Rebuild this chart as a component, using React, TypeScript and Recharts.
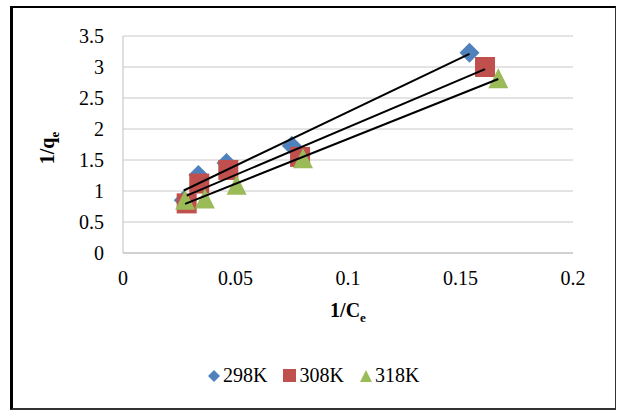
import React from 'react';
import { ScatterChart, Scatter, XAxis, YAxis, CartesianGrid } from 'recharts';

// 1/Ce and 1/qe readings per temperature
const x298 = [0.027, 0.0335, 0.046, 0.075, 0.154];
const y298 = [0.85, 1.26, 1.45, 1.73, 3.23];
const x308 = [0.0283, 0.0339, 0.0468, 0.0787, 0.1609];
const y308 = [0.8, 1.12, 1.34, 1.55, 3.0];
const x318 = [0.0276, 0.0364, 0.0505, 0.08, 0.1668];
const y318 = [0.86, 0.88, 1.1, 1.53, 2.82];

const xTicks = [0, 0.05, 0.1, 0.15, 0.2];
const yTicks = [0, 0.5, 1, 1.5, 2, 2.5, 3, 3.5];
const seriesNames = ['298K', '308K', '318K'];

const BLUE = '#4F81BD';
const RED = '#C0504D';
const GREEN = '#9BBB59';
const FONT = 'Liberation Serif';

const toPoints = (xs: number[], ys: number[]) => xs.map((x, i) => ({ x, y: ys[i] }));

// least squares trend line, drawn from min x to max x like Excel does
const trend = (xs: number[], ys: number[]) => {
  const n = xs.length;
  const mx = xs.reduce((a, b) => a + b, 0) / n;
  const my = ys.reduce((a, b) => a + b, 0) / n;
  let sxy = 0;
  let sxx = 0;
  xs.forEach((x, i) => {
    sxy += (x - mx) * (ys[i] - my);
    sxx += (x - mx) * (x - mx);
  });
  const slope = sxy / sxx;
  const lo = Math.min(...xs);
  const hi = Math.max(...xs);
  return [
    { x: lo, y: my + slope * (lo - mx) },
    { x: hi, y: my + slope * (hi - mx) },
  ];
};

const Diamond = ({ cx, cy }: any) => (
  <polygon points={`${cx},${cy - 10} ${cx + 10},${cy} ${cx},${cy + 10} ${cx - 10},${cy}`} fill={BLUE} />
);
const Square = ({ cx, cy }: any) => <rect x={cx - 10} y={cy - 10} width={20} height={20} fill={RED} />;
const Triangle = ({ cx, cy }: any) => (
  <polygon points={`${cx},${cy - 10} ${cx + 10},${cy + 10} ${cx - 10},${cy + 10}`} fill={GREEN} />
);
const NoDot = () => <g />;

const XTitle = () => (
  <text x={348} y={317} textAnchor="middle" fontFamily={FONT} fontSize={20} fontWeight="bold" fill="#000">
    1/C
    <tspan fontSize={13} dy={5}>e</tspan>
  </text>
);

const YTitle = () => (
  <text
    x={54}
    y={148}
    transform="rotate(-90 54 148)"
    textAnchor="middle"
    fontFamily={FONT}
    fontSize={20}
    fontWeight="bold"
    fill="#000"
  >
    1/q
    <tspan fontSize={13} dy={5}>e</tspan>
  </text>
);

const legendMarks = [
  <svg width={12} height={12} key="d"><polygon points="6,0 12,6 6,12 0,6" fill={BLUE} /></svg>,
  <svg width={13} height={13} key="s"><rect width={13} height={13} fill={RED} /></svg>,
  <svg width={12} height={12} key="t"><polygon points="6,0 12,12 0,12" fill={GREEN} /></svg>,
];

export default function App() {
  const tickStyle = { fontFamily: FONT, fontSize: 20, fill: '#000' };
  return (
    <div style={{ position: 'absolute', left: 0, top: 0, width: 617, height: 410, background: '#fff' }}>
      <div
        style={{
          position: 'absolute',
          left: 10,
          top: 6,
          width: 602,
          height: 400,
          borderLeft: '3px solid #000',
          borderTop: '2px solid #000',
          borderRight: '1px solid #333',
          borderBottom: '2px solid #333',
        }}
      />
      <ScatterChart width={617} height={410} margin={{ top: 36, right: 44, left: 0, bottom: 87 }}>
        <CartesianGrid vertical={false} stroke="#c8c8c8" />
        <XAxis
          type="number"
          dataKey="x"
          domain={[0, 0.2]}
          ticks={xTicks}
          tickLine={false}
          tickMargin={12}
          axisLine={{ stroke: '#bfbfbf' }}
          tick={tickStyle}
          height={70}
          label={{ content: () => <XTitle /> }}
        />
        <YAxis
          type="number"
          dataKey="y"
          domain={[0, 3.5]}
          ticks={yTicks}
          tickLine={false}
          tickMargin={13}
          axisLine={{ stroke: '#bfbfbf' }}
          tick={tickStyle}
          width={123}
          label={{ content: () => <YTitle /> }}
        />
        <Scatter name={seriesNames[0]} data={toPoints(x298, y298)} shape={Diamond} isAnimationActive={false} />
        <Scatter name={seriesNames[1]} data={toPoints(x308, y308)} shape={Square} isAnimationActive={false} />
        <Scatter name={seriesNames[2]} data={toPoints(x318, y318)} shape={Triangle} isAnimationActive={false} />
        <Scatter data={trend(x298, y298)} line={{ stroke: '#000', strokeWidth: 2 }} shape={NoDot} isAnimationActive={false} />
        <Scatter data={trend(x308, y308)} line={{ stroke: '#000', strokeWidth: 2 }} shape={NoDot} isAnimationActive={false} />
        <Scatter data={trend(x318, y318)} line={{ stroke: '#000', strokeWidth: 2 }} shape={NoDot} isAnimationActive={false} />
      </ScatterChart>
      <div
        style={{
          position: 'absolute',
          left: 208,
          top: 364,
          display: 'flex',
          alignItems: 'center',
          fontFamily: FONT,
          fontSize: 20,
          color: '#000',
        }}
      >
        {seriesNames.map((name, i) => (
          <div key={name} style={{ display: 'flex', alignItems: 'center', marginRight: 16 }}>
            {legendMarks[i]}
            <span style={{ marginLeft: 3 }}>{name}</span>
          </div>
        ))}
      </div>
    </div>
  );
}
